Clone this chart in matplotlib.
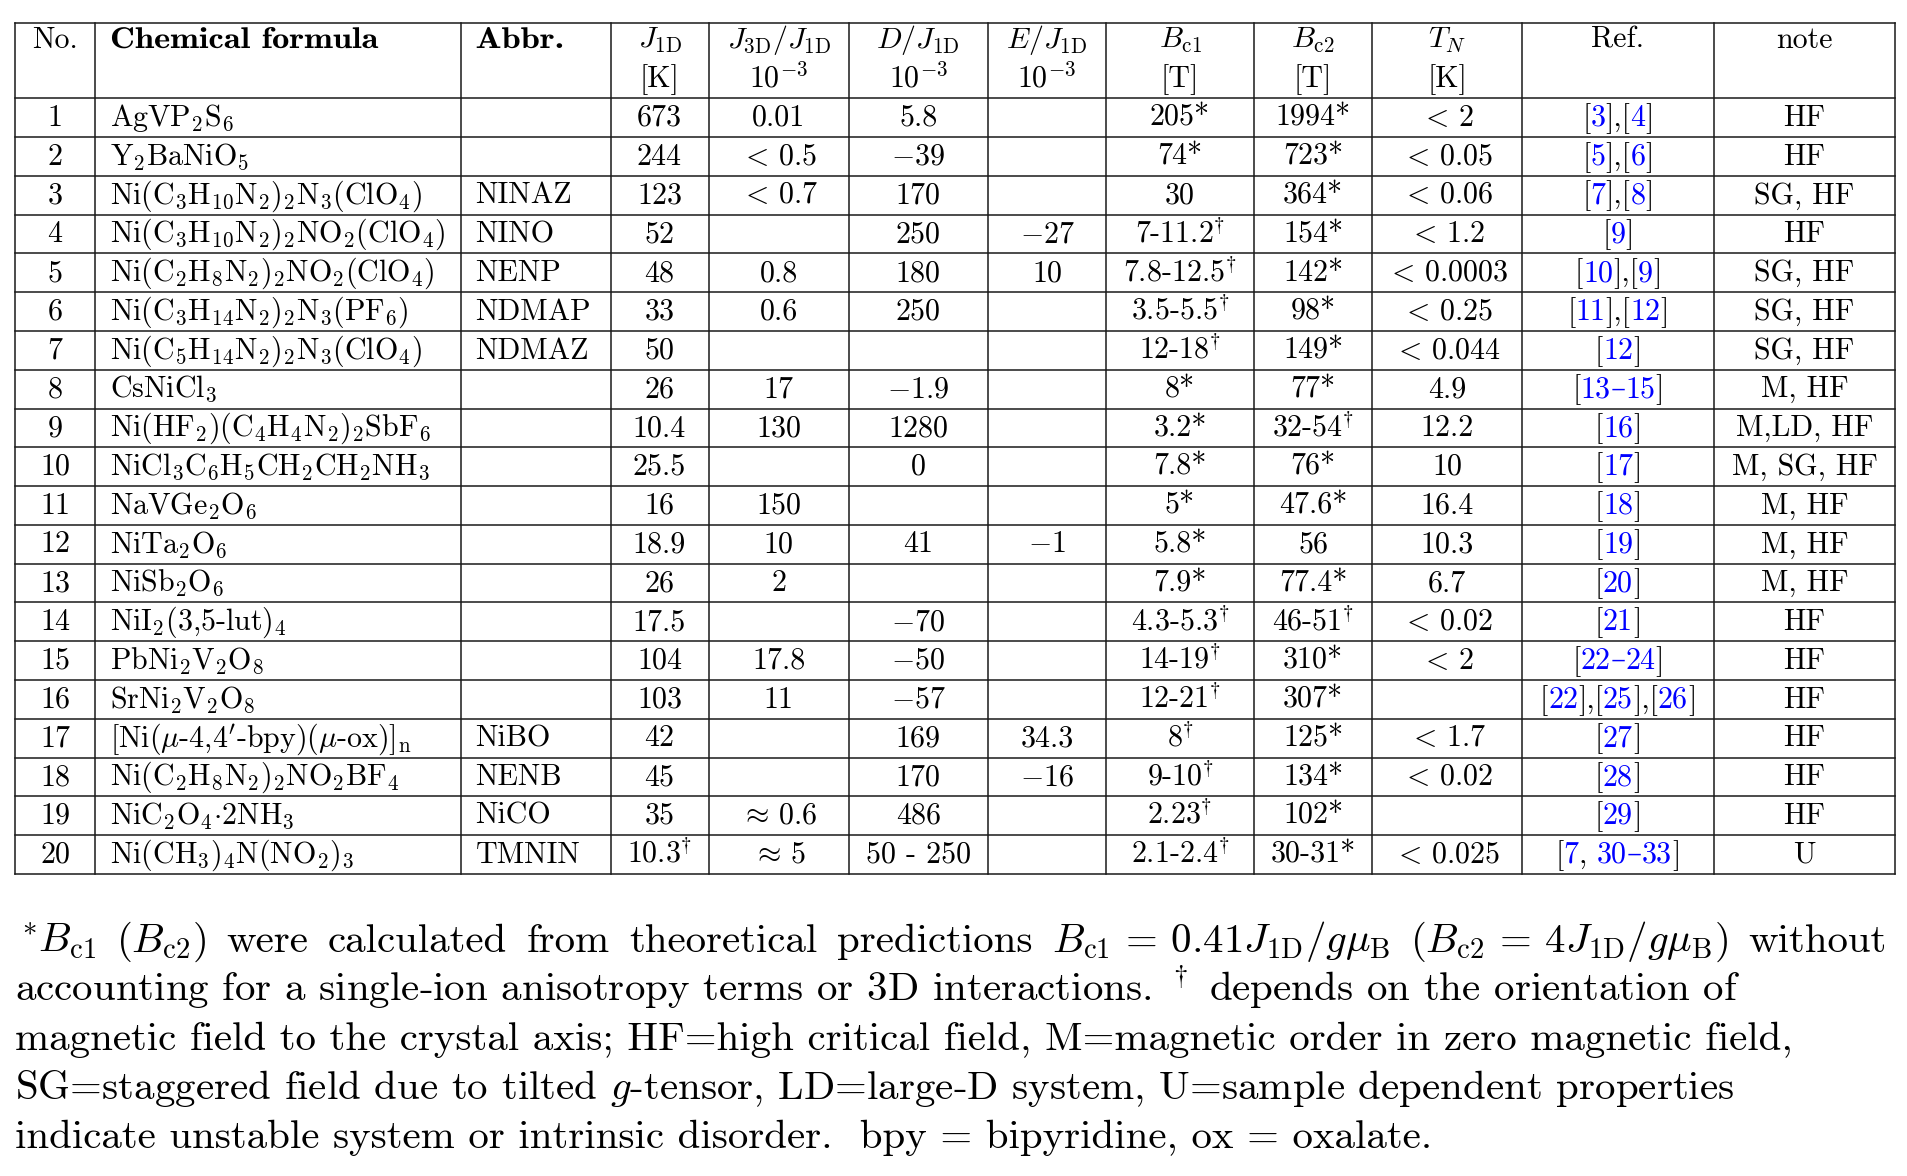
import re
import matplotlib
matplotlib.use("Agg")
import matplotlib.pyplot as plt
from matplotlib.textpath import TextPath
from matplotlib.patches import PathPatch
from matplotlib.font_manager import FontProperties
from matplotlib.transforms import Affine2D

plt.rcParams['font.family'] = 'cmr10'
plt.rcParams['mathtext.fontset'] = 'cm'

# -----------------------------
# Tabelleninhalt
# -----------------------------
nummern = [str(i) for i in range(1, 21)]
formeln = [
    r"AgVP$_2$S$_6$",
    r"Y$_2$BaNiO$_5$",
    r"Ni(C$_3$H$_{10}$N$_2$)$_2$N$_3$(ClO$_4$)",
    r"Ni(C$_3$H$_{10}$N$_2$)$_2$NO$_2$(ClO$_4$)",
    r"Ni(C$_2$H$_8$N$_2$)$_2$NO$_2$(ClO$_4$)",
    r"Ni(C$_3$H$_{14}$N$_2$)$_2$N$_3$(PF$_6$)",
    r"Ni(C$_5$H$_{14}$N$_2$)$_2$N$_3$(ClO$_4$)",
    r"CsNiCl$_3$",
    r"Ni(HF$_2$)(C$_4$H$_4$N$_2$)$_2$SbF$_6$",
    r"NiCl$_3$C$_6$H$_5$CH$_2$CH$_2$NH$_3$",
    r"NaVGe$_2$O$_6$",
    r"NiTa$_2$O$_6$",
    r"NiSb$_2$O$_6$",
    r"NiI$_2$(3,5-lut)$_4$",
    r"PbNi$_2$V$_2$O$_8$",
    r"SrNi$_2$V$_2$O$_8$",
    r"[Ni($\mu$-4,$4'$-bpy)($\mu$-ox)]$_\mathrm{n}$",
    r"Ni(C$_2$H$_8$N$_2$)$_2$NO$_2$BF$_4$",
    r"NiC$_2$O$_4{\cdot}$2NH$_3$",
    r"Ni(CH$_3$)$_4$N(NO$_2$)$_3$",
]
abkuerzung = ["", "", "NINAZ", "NINO", "NENP", "NDMAP", "NDMAZ", "", "", "", "",
              "", "", "", "", "", "NiBO", "NENB", "NiCO", "TMNIN"]
j1d = ["673", "244", "123", "52", "48", "33", "50", "26", "10.4", "25.5", "16",
       "18.9", "26", "17.5", "104", "103", "42", "45", "35", r"10.3$\!^\dagger$"]
j3d = ["0.01", r"$<\,0.5$", r"$<\,0.7$", "", "0.8", "0.6", "", "17", "130", "", "150",
       "10", "2", "", "17.8", "11", "", "", r"$\approx\,0.6$", r"$\approx\,5$"]
d_j = ["5.8", r"$-39$", "170", "250", "180", "250", "", r"$-1.9$", "1280", "0", "",
       "41", "", r"$-70$", r"$-50$", r"$-57$", "169", "170", "486", "50 - 250"]
e_j = ["", "", "", r"$-27$", "10", "", "", "", "", "", "",
       r"$-1$", "", "", "", "", "34.3", r"$-16$", "", ""]
bc1 = ["205*", "74*", "30", r"7-11.2$\!^\dagger$", r"7.8-12.5$\!^\dagger$", r"3.5-5.5$\!^\dagger$",
       r"12-18$\!^\dagger$", "8*", "3.2*", "7.8*", "5*", "5.8*", "7.9*", r"4.3-5.3$\!^\dagger$",
       r"14-19$\!^\dagger$", r"12-21$\!^\dagger$", r"8$\!^\dagger$", r"9-10$\!^\dagger$",
       r"2.23$\!^\dagger$", r"2.1-2.4$\!^\dagger$"]
bc2 = ["1994*", "723*", "364*", "154*", "142*", "98*", "149*", "77*", r"32-54$\!^\dagger$",
       "76*", "47.6*", "56", "77.4*", r"46-51$\!^\dagger$", "310*", "307*", "125*", "134*",
       "102*", "30-31*"]
tn = [r"$<\,2$", r"$<\,0.05$", r"$<\,0.06$", r"$<\,1.2$", r"$<\,0.0003$", r"$<\,0.25$",
      r"$<\,0.044$", "4.9", "12.2", "10", "16.4", "10.3", "6.7", r"$<\,0.02$", r"$<\,2$", "",
      r"$<\,1.7$", r"$<\,0.02$", "", r"$<\,0.025$"]
referenzen = ["[3],[4]", "[5],[6]", "[7],[8]", "[9]", "[10],[9]", "[11],[12]", "[12]",
              "[13–15]", "[16]", "[17]", "[18]", "[19]", "[20]", "[21]", "[22–24]",
              "[22],[25],[26]", "[27]", "[28]", "[29]", "[7, 30–33]"]
notiz = ["HF", "HF", "SG, HF", "HF", "SG, HF", "SG, HF", "SG, HF", "M, HF", "M,LD, HF",
         "M, SG, HF", "M, HF", "M, HF", "M, HF", "HF", "HF", "HF", "HF", "HF", "HF", "U"]

kopf1 = ["No.", "Chemical formula", "Abbr.", r"$J_{\mathrm{1D}}$",
         r"$J_{\mathrm{3D}}/J_{\mathrm{1D}}$", r"$D/J_{\mathrm{1D}}$", r"$E/J_{\mathrm{1D}}$",
         r"$B_{\mathrm{c1}}$", r"$B_{\mathrm{c2}}$", r"$T_N$", "Ref.", "note"]
kopf2 = ["", "", "", "[K]", r"$10^{-3}$", r"$10^{-3}$", r"$10^{-3}$", "[T]", "[T]", "[K]", "", ""]

fussnote = [
    r"$^*\!B_{\mathrm{c1}}$ ($B_{\mathrm{c2}}$) were calculated from theoretical predictions "
    r"$B_{\mathrm{c1}}\,=\,0.41J_{\mathrm{1D}}/g\mu_{\mathrm{B}}$ "
    r"($B_{\mathrm{c2}}\,=\,4J_{\mathrm{1D}}/g\mu_{\mathrm{B}}$) without",
    r"accounting for a single-ion anisotropy terms or 3D interactions. $^\dagger$ depends on the orientation of",
    "magnetic field to the crystal axis; HF=high critical field, M=magnetic order in zero magnetic field,",
    r"SG=staggered field due to tilted $g$-tensor, LD=large-D system, U=sample dependent properties",
    "indicate unstable system or intrinsic disorder.  bpy = bipyridine, ox = oxalate.",
]

spalten = [nummern, formeln, abkuerzung, j1d, j3d, d_j, e_j, bc1, bc2, tn, referenzen, notiz]

# -----------------------------
# Geometrie (Pixel)
# -----------------------------
W, H = 1907, 1176
spalten_x = [15, 95, 460.5, 610.5, 708.5, 848.7, 988, 1106, 1254, 1372, 1522, 1714, 1895]
y_oben = 22.5
y_kopf = 98.3
zeile_h = 38.78
y_unten = y_kopf + 20 * zeile_h
fs = 21.6
fs_fuss = 29.5
link_blau = "#0000ff"

fig = plt.figure(figsize=(W / 100, H / 100), dpi=100)
ax = fig.add_axes([0, 0, 1, 1])
ax.set_xlim(0, W)
ax.set_ylim(H, 0)
ax.axis('off')
renderer = fig.canvas.get_renderer()

# Linien
for x in spalten_x:
    ax.plot([x, x], [y_oben, y_unten], color="#1a1a1a", lw=1.1, solid_capstyle='projecting')
for y in [y_oben, y_kopf] + [y_kopf + (i + 1) * zeile_h for i in range(20)]:
    ax.plot([spalten_x[0], spalten_x[-1]], [y, y], color="#1a1a1a", lw=1.1, solid_capstyle='projecting')


def fett_text(x, yb, s, sx=1.15):
    # cmb10 ist schmaler als cmbx10 -> horizontal strecken
    tp = TextPath((0, 0), s, size=fs * 100 / 72, prop=FontProperties(family='cmb10'))
    pfad = Affine2D().scale(sx, -1).translate(x, yb).transform_path(tp)
    ax.add_patch(PathPatch(pfad, fc='black', lw=0))


# Kopfzeile
mitte = [(spalten_x[i] + spalten_x[i + 1]) / 2 for i in range(12)]
for i in range(12):
    if i in (1, 2):
        fett_text(spalten_x[i] + 15, 48, kopf1[i])
    else:
        ax.text(mitte[i], 48, kopf1[i], fontsize=fs, ha='center', va='baseline')
        if kopf2[i]:
            ax.text(mitte[i], 87, kopf2[i], fontsize=fs, ha='center', va='baseline')


def breite(s, groesse=fs, **kw):
    # Vorschubbreite inkl. Leerzeichen ueber Hilfszeichen messen
    t1 = ax.text(0, 0, "x" + s + "x", fontsize=groesse, **kw)
    t0 = ax.text(0, 0, "xx", fontsize=groesse, **kw)
    b = t1.get_window_extent(renderer).width - t0.get_window_extent(renderer).width
    t1.remove()
    t0.remove()
    return b


def zeichne_referenz(xm, yb, s):
    teile = re.findall(r"\d+|–|[^\d–]+", s)
    stuecke = []
    for t in teile:
        kw = {'fontfamily': 'DejaVu Serif'} if t == "–" else {}
        farbe = link_blau if (t.isdigit() or t == "–") else "black"
        stuecke.append((t, farbe, kw, breite(t, **kw)))
    x = xm - sum(s_[3] for s_ in stuecke) / 2
    for t, farbe, kw, b in stuecke:
        ax.text(x, yb, t, fontsize=fs, color=farbe, ha='left', va='baseline', **kw)
        x += b


def blocksatz(x0, x1, yb, zeile, groesse):
    woerter = zeile.split(" ")
    breiten = []
    for w in woerter:
        t = ax.text(0, 0, w, fontsize=groesse)
        breiten.append(t.get_window_extent(renderer).width)
        t.remove()
    luecke = (x1 - x0 - sum(breiten)) / (len(woerter) - 1)
    x = x0
    for w, b in zip(woerter, breiten):
        ax.text(x, yb, w, fontsize=groesse, ha='left', va='baseline')
        x += b + luecke


# Zeilen
for r in range(20):
    yb = y_kopf + r * zeile_h + 27.6
    for i, spalte in enumerate(spalten):
        wert = spalte[r]
        if not wert:
            continue
        if i in (1, 2):
            ax.text(spalten_x[i] + 15, yb, wert, fontsize=fs, ha='left', va='baseline')
        elif i == 10:
            zeichne_referenz(mitte[i], yb, wert)
        else:
            ax.text(mitte[i], yb, wert, fontsize=fs, ha='center', va='baseline')

# Fussnote (erste Zeile im Blocksatz)
blocksatz(16, 1886, 952, fussnote[0], fs_fuss)
for k, zeile in enumerate(fussnote[1:], start=1):
    ax.text(15, 952 + k * 49, zeile, fontsize=fs_fuss, ha='left', va='baseline')

fig.savefig("out.png", dpi=100)
